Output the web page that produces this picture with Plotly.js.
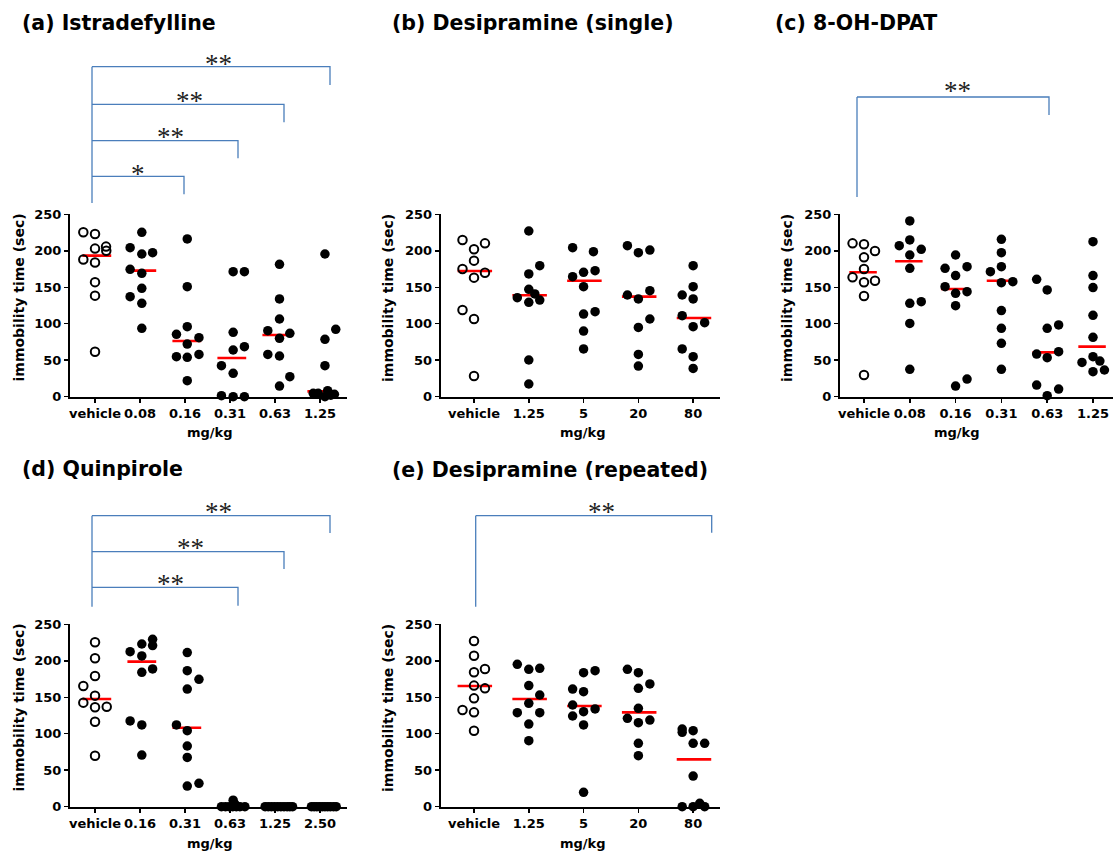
<!DOCTYPE html>
<html>
<head>
<meta charset="utf-8">
<script src="https://cdn.plot.ly/plotly-3.0.1.min.js"></script>
<style>html,body{margin:0;padding:0;background:#fff;}#chart{width:1115px;height:852px;}</style>
</head>
<body>
<div id="chart"></div>
<script>
// ---------------- DATA ----------------
// (a) Istradefylline
const catsA = ['vehicle', '0.08', '0.16', '0.31', '0.63', '1.25'];
const valsA = [
  [225.3, 223, 203, 205.7, 200, 188, 184, 157, 138.5, 61.7],
  [225.3, 204.3, 195.6, 197.4, 174.6, 169.1, 148.5, 137.1, 128, 93.7],
  [216.2, 150.8, 96, 85.5, 80.9, 72.2, 54.8, 53.9, 58, 21.9],
  [171.4, 171.4, 88.2, 64, 68.6, 42.5, 32, 1.4, 0, 0],
  [181.4, 134, 106.5, 90.5, 86.8, 80, 58, 55.8, 27.4, 14.6],
  [195.6, 92.3, 78.6, 42.5, 4.6, 4.6, 8.2, 0, 3.2, 2]
];
const jitA = [
  [-0.26, 0, 0, 0.245, 0.25, -0.26, 0, 0, 0, 0],
  [0.04, -0.22, 0.04, 0.28, -0.22, 0.04, 0.04, -0.22, 0.04, 0.04],
  [0.05, 0.05, 0.05, -0.19, 0.31, 0.05, -0.19, 0.05, 0.31, 0.05],
  [0.07, 0.32, 0.07, 0.07, 0.32, -0.19, 0.07, -0.19, 0.07, 0.32],
  [0.1, 0.1, 0.1, -0.16, 0.33, 0.1, -0.16, 0.1, 0.33, 0.1],
  [0.11, 0.35, 0.11, 0.11, -0.15, -0.04, 0.17, 0.11, 0.32, 0.24]
];
const medA = [193.3, 172.8, 76.3, 53, 84.6, 7.3];

// (b) Desipramine (single)
const catsB = ['vehicle', '1.25', '5', '20', '80'];
const valsB = [
  [214.8, 202, 210.2, 186.5, 175, 170, 163.2, 118.8, 106.5, 28.3],
  [227.1, 168.2, 179.6, 147.2, 135.7, 140.8, 129.3, 132.5, 50.3, 17.4],
  [204.3, 198.8, 164.5, 170.5, 172.8, 150.8, 113.3, 116.5, 90, 65.4],
  [207, 197.4, 201, 139.4, 145.3, 134, 106.5, 95, 58, 42],
  [179.6, 139.4, 150.8, 134, 111, 96, 101.5, 65.4, 54.8, 38.8]
];
const jitB = [
  [-0.21, 0, 0.2, 0, -0.21, 0.2, 0, -0.21, 0, 0],
  [0, 0, 0.2, 0, -0.21, 0.11, 0, 0.2, 0, 0],
  [-0.2, 0.18, -0.2, 0, 0.21, 0, 0, 0.21, 0, 0],
  [-0.2, 0, 0.21, -0.2, 0.21, 0, 0.21, 0, 0, 0],
  [0, -0.2, 0, 0, -0.2, 0, 0.21, -0.2, 0, 0]
];
const medB = [172.3, 139, 159, 137.1, 107.9];

// (c) 8-OH-DPAT
const catsC = ['vehicle', '0.08', '0.16', '0.31', '0.63', '1.25'];
const valsC = [
  [210.2, 208.9, 199.7, 191, 175, 163.6, 156.8, 159, 138, 29.7],
  [240.9, 214.8, 207, 202, 194.2, 176, 128, 130.3, 100.5, 37.5],
  [194.2, 176, 178.2, 166, 150.8, 141.7, 144, 124.8, 14.6, 24.2],
  [215.7, 197.4, 178.2, 171.4, 156.3, 157.7, 118, 93.7, 73.1, 37.5],
  [160.9, 146.3, 93.7, 98.3, 58.5, 61.7, 53.5, 16, 10.5, 1.4],
  [212.5, 166, 149.5, 111.5, 81.4, 54.8, 47, 48.9, 34.3, 36.6]
];
const jitC = [
  [-0.25, 0, 0.24, 0, 0, -0.25, 0, 0.24, 0, 0],
  [0, 0, -0.23, 0.25, 0, 0, 0, 0.25, 0, 0],
  [0, -0.23, 0.25, 0, -0.23, 0, 0.25, 0, 0, 0.25],
  [0, 0, 0, -0.24, 0, 0.25, 0, 0, 0, 0],
  [-0.23, 0, 0, 0.25, -0.23, 0.25, 0, -0.23, 0.25, 0],
  [0, 0, 0, 0, 0, 0, -0.24, 0.15, 0, 0.25]
];
const medC = [170.5, 185.6, 147.6, 159, 60.8, 68.6];

// (d) Quinpirole
const catsD = ['vehicle', '0.16', '0.31', '0.63', '1.25', '2.50'];
const valsD = [
  [225.3, 203.4, 179.2, 165.4, 152.2, 142.6, 136.2, 137.1, 116.5, 69.9],
  [229.4, 223, 220.8, 212.5, 206.6, 184.2, 188.8, 117.5, 112, 70.8],
  [211.2, 186.5, 174.6, 161.3, 112, 104.2, 83.2, 67.6, 28.3, 32],
  [0, 0, 0, 0, 0, 0, 0, 9, 4, 2],
  [0, 0, 0, 0, 0, 0, 0, 0, 0, 0],
  [0, 0, 0, 0, 0, 0, 0, 0, 0, 0]
];
const jitD = [
  [0, 0, 0, -0.26, 0, -0.26, 0, 0.26, 0, 0],
  [0.28, 0.04, 0.28, -0.22, 0.04, 0.04, 0.28, -0.22, 0.04, 0.04],
  [0.05, 0.05, 0.31, 0.05, -0.19, 0.05, 0.05, 0.05, 0.05, 0.31],
  [-0.19, -0.1, -0.02, 0.06, 0.14, 0.22, 0.33, 0.07, 0.1, 0.13],
  [-0.22, -0.15, -0.08, -0.01, 0.06, 0.13, 0.2, 0.27, 0.33, 0.39],
  [-0.19, -0.13, -0.07, -0.01, 0.05, 0.11, 0.17, 0.23, 0.3, 0.36]
];
const medD = [147.6, 198.8, 108.3, 0, 0, 0];

// (e) Desipramine (repeated)
const catsE = ['vehicle', '1.25', '5', '20', '80'];
const valsE = [
  [227.1, 207, 184.2, 188.8, 166, 162.2, 148.5, 132.5, 129.3, 104.2],
  [195.2, 188.3, 189.7, 166, 153.1, 141.7, 128.9, 128.9, 113.3, 90.5],
  [183.7, 186.5, 161.3, 157.7, 139.4, 134, 130.3, 124.3, 112, 19.7],
  [188.3, 183.7, 168.2, 162.2, 134.8, 121.1, 118.8, 115.2, 86.8, 69.9],
  [106.5, 101.9, 104.2, 86.8, 86.8, 42, 0, 0, 4.6, 0]
];
const jitE = [
  [0, 0, 0, 0.2, 0, 0.2, 0, -0.21, 0, 0],
  [-0.21, 0, 0.2, 0, 0.2, 0, -0.21, 0.2, 0, 0],
  [0, 0.21, -0.2, 0, -0.2, 0.21, 0, -0.2, 0, 0],
  [-0.2, 0, 0.21, 0, 0, -0.2, 0.21, 0, 0, 0],
  [-0.2, -0.2, 0, 0, 0.21, 0, -0.2, 0, 0.12, 0.21]
];
const medE = [165.4, 147.6, 138, 129.3, 64.9];

const yTicks = [0, 50, 100, 150, 200, 250];

// ---------------- BUILD ----------------
const W = 1115, H = 852;
const px = x => x / W;
const py = y => 1 - y / H;
const FONT = 'DejaVu Sans, Arial, sans-serif';
const BLUE = '#4a7ebb';

const panels = [
  {cats: catsA, vals: valsA, jit: jitA, med: medA, xs: '', x0: 70, x1: 347, r: [-0.556, 5.6], yTop: 214.3, yBot: 396.7, span: [-0.28, 0.36]},
  {cats: catsB, vals: valsB, jit: jitB, med: medB, xs: '2', x0: 440.7, x1: 720, r: [-0.608, 4.49], yTop: 214.3, yBot: 396.7, span: [-0.3, 0.33]},
  {cats: catsC, vals: valsC, jit: jitC, med: medC, xs: '3', x0: 840, x1: 1113, r: [-0.524, 5.437], yTop: 214.3, yBot: 396.7, span: [-0.32, 0.28]},
  {cats: catsD, vals: valsD, jit: jitD, med: medD, xs: '4', x0: 70, x1: 347, r: [-0.556, 5.6], yTop: 624.3, yBot: 806.7, span: [-0.28, 0.36]},
  {cats: catsE, vals: valsE, jit: jitE, med: medE, xs: '5', x0: 440.7, x1: 720, r: [-0.608, 4.49], yTop: 624.3, yBot: 806.7, span: [-0.3, 0.33]}
];

const traces = [];
const layout = {
  width: W, height: H,
  margin: {l: 0, r: 0, t: 0, b: 0},
  paper_bgcolor: '#fff', plot_bgcolor: 'rgba(0,0,0,0)',
  showlegend: false,
  annotations: [], shapes: []
};

panels.forEach(p => {
  const xa = 'x' + p.xs, ya = 'y' + p.xs;
  // median lines
  const mx = [], my = [];
  p.med.forEach((m, i) => { mx.push(i + p.span[0], i + p.span[1], null); my.push(m, m, null); });
  traces.push({type: 'scatter', mode: 'lines', x: mx, y: my, xaxis: xa, yaxis: ya,
    line: {color: '#ff0000', width: 2.6}, cliponaxis: false, hoverinfo: 'skip'});
  // vehicle (open)
  traces.push({type: 'scatter', mode: 'markers', xaxis: xa, yaxis: ya, cliponaxis: false,
    x: p.vals[0].map((v, k) => 0 + p.jit[0][k]), y: p.vals[0],
    marker: {symbol: 'circle-open', size: 8.5, color: '#000', line: {width: 2, color: '#000'}}});
  // drug groups (filled)
  const fx = [], fy = [];
  for (let i = 1; i < p.vals.length; i++) {
    p.vals[i].forEach((v, k) => { fx.push(i + p.jit[i][k]); fy.push(v); });
  }
  traces.push({type: 'scatter', mode: 'markers', xaxis: xa, yaxis: ya, cliponaxis: false,
    x: fx, y: fy, marker: {symbol: 'circle', size: 9.5, color: '#000', line: {width: 0}}});

  const axCommon = {
    showline: true, linecolor: '#000', linewidth: 2, mirror: false,
    ticks: 'outside', ticklen: 4, tickwidth: 1.5, tickcolor: '#000',
    showgrid: false, zeroline: false, fixedrange: true,
    tickfont: {family: FONT, size: 13, color: '#000', weight: 'bold'}
  };
  layout['xaxis' + p.xs] = Object.assign({}, axCommon, {
    domain: [px(p.x0), px(p.x1)], range: p.r, anchor: ya,
    tickmode: 'array', tickvals: p.cats.map((c, i) => i), ticktext: p.cats
  });
  layout['yaxis' + p.xs] = Object.assign({}, axCommon, {
    domain: [py(p.yBot), py(p.yTop)], range: [0, 250], anchor: xa,
    tickmode: 'array', tickvals: yTicks, ticktext: yTicks.map(String)
  });
});

// Text annotations
function txt(x, y, text, size, opts) {
  layout.annotations.push(Object.assign({
    xref: 'paper', yref: 'paper', x: px(x), y: py(y), text: text, showarrow: false,
    xanchor: 'center', yanchor: 'middle',
    font: {family: FONT, size: size, color: '#000', weight: 'bold'}
  }, opts || {}));
}
// panel titles
txt(20, 23, '(a) Istradefylline', 20.5, {xanchor: 'left'});
txt(390, 23, '(b) Desipramine (single)', 20.5, {xanchor: 'left'});
txt(773, 23, '(c) 8-OH-DPAT', 20.5, {xanchor: 'left'});
txt(20, 469, '(d) Quinpirole', 20.5, {xanchor: 'left'});
txt(390, 470, '(e) Desipramine (repeated)', 20.5, {xanchor: 'left'});
// y titles
[[18.5, 298], [388, 298], [787, 298], [18.5, 708], [388, 708]].forEach(([x, y]) =>
  txt(x, y, 'immobility time (sec)', 14, {textangle: -90}));
// x titles
[[210, 433], [583, 433], [957, 433], [210, 843], [583, 843]].forEach(([x, y]) =>
  txt(x, y, 'mg/kg', 13));

// significance brackets (pixel geometry of the figure)
function bracket(xl, yTop, yBottom, arms) {
  layout.shapes.push({type: 'line', xref: 'paper', yref: 'paper', x0: px(xl), x1: px(xl), y0: py(yTop), y1: py(yBottom), line: {color: BLUE, width: 1.3}});
  arms.forEach(([yh, xr, yd, star, sx, sy]) => {
    layout.shapes.push({type: 'path', xref: 'paper', yref: 'paper',
      path: `M ${px(xl)} ${py(yh)} L ${px(xr)} ${py(yh)} L ${px(xr)} ${py(yd)}`,
      line: {color: BLUE, width: 1.3}});
    layout.annotations.push({xref: 'paper', yref: 'paper', x: px(sx), y: py(sy + 2), text: star, showarrow: false,
      xanchor: 'center', yanchor: 'middle', font: {family: 'Liberation Serif, Times New Roman, serif', size: 27, color: '#222'}});
  });
}
bracket(92, 66.7, 203, [
  [66.7, 330, 85, '**', 218.3, 61.7],
  [104.3, 284, 122.3, '**', 189, 99],
  [140.7, 238, 158.3, '**', 170, 135],
  [176.3, 184, 194.3, '*', 138.3, 171.7]
]);
bracket(857, 97, 197, [[97, 1049, 115, '**', 957, 89]]);
bracket(92, 515.7, 606.7, [
  [515.7, 330, 533, '**', 218, 510],
  [551.7, 284, 569, '**', 190.7, 546],
  [587.3, 238, 605.7, '**', 170, 581.7]
]);
bracket(475.7, 515.7, 606.7, [[515.7, 711.7, 532.7, '**', 601, 510]]);

Plotly.newPlot('chart', traces, layout, {staticPlot: true, displayModeBar: false});
</script>
</body>
</html>
